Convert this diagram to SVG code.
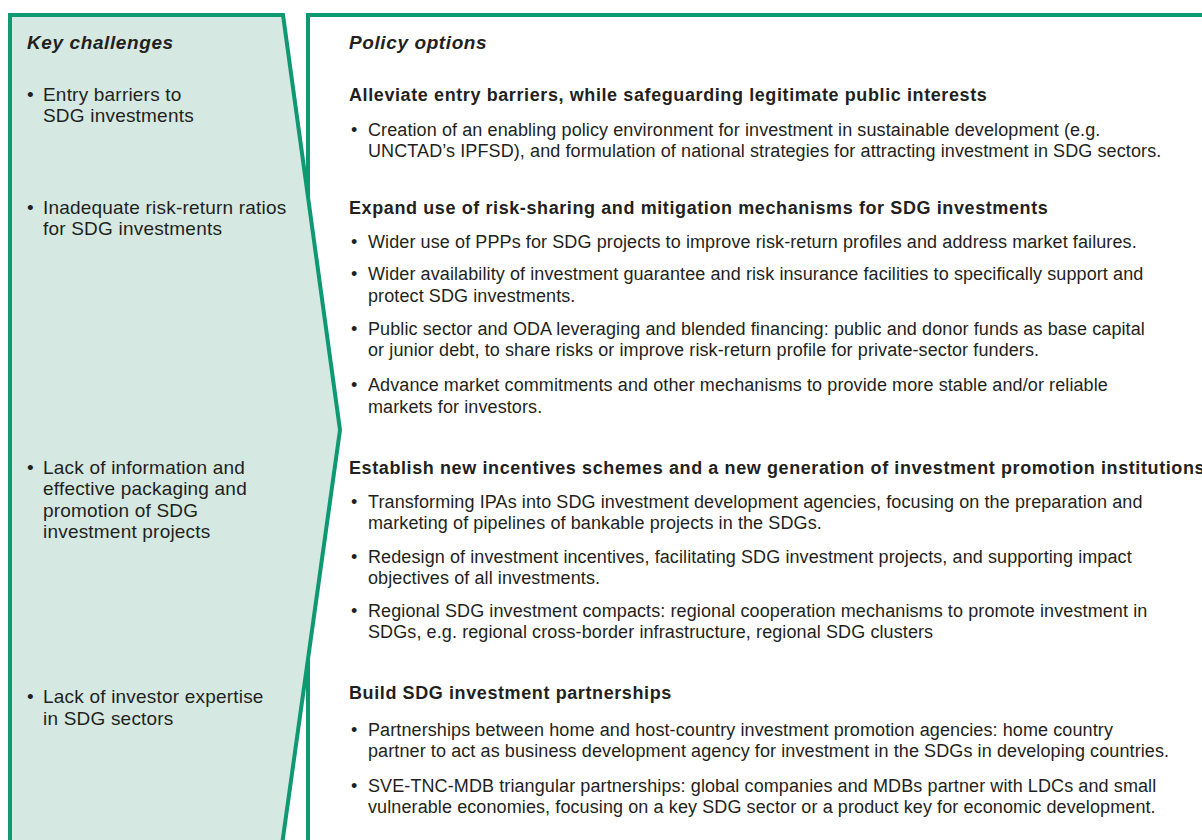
<svg xmlns="http://www.w3.org/2000/svg" width="1202" height="840" viewBox="0 0 1202 840">
<style>
text{font-family:"Liberation Sans",Arial,sans-serif;font-size:18px;letter-spacing:0.1px;fill:#231f20}
.h{font-weight:bold;font-style:italic;font-size:19px;letter-spacing:0.6px}
.b{font-weight:bold;letter-spacing:0.6px}
.l{font-size:19px;letter-spacing:0.2px}
.panel{stroke:#0f9970;stroke-width:4}
</style>
<rect width="1202" height="840" fill="#ffffff"/>
<g id="policy-options">
<rect class="panel" x="308" y="15" width="910" height="840" fill="#ffffff"/>
<text class="h" x="349" y="49">Policy options</text>
<text class="b" x="349" y="101">Alleviate entry barriers, while safeguarding legitimate public interests</text>
<text x="351" y="136">•</text>
<text x="368" y="136">Creation of an enabling policy environment for investment in sustainable development (e.g.</text>
<text x="368" y="157">UNCTAD’s IPFSD), and formulation of national strategies for attracting investment in SDG sectors.</text>
<text class="b" x="349" y="214">Expand use of risk-sharing and mitigation mechanisms for SDG investments</text>
<text x="351" y="248">•</text>
<text x="368" y="248">Wider use of PPPs for SDG projects to improve risk-return profiles and address market failures.</text>
<text x="351" y="280">•</text>
<text x="368" y="280">Wider availability of investment guarantee and risk insurance facilities to specifically support and</text>
<text x="368" y="302">protect SDG investments.</text>
<text x="351" y="335">•</text>
<text x="368" y="335">Public sector and ODA leveraging and blended financing: public and donor funds as base capital</text>
<text x="368" y="356">or junior debt, to share risks or improve risk-return profile for private-sector funders.</text>
<text x="351" y="391">•</text>
<text x="368" y="391">Advance market commitments and other mechanisms to provide more stable and/or reliable</text>
<text x="368" y="413">markets for investors.</text>
<text class="b" x="349" y="474">Establish new incentives schemes and a new generation of investment promotion institutions</text>
<text x="351" y="508">•</text>
<text x="368" y="508">Transforming IPAs into SDG investment development agencies, focusing on the preparation and</text>
<text x="368" y="529">marketing of pipelines of bankable projects in the SDGs.</text>
<text x="351" y="563">•</text>
<text x="368" y="563">Redesign of investment incentives, facilitating SDG investment projects, and supporting impact</text>
<text x="368" y="584">objectives of all investments.</text>
<text x="351" y="617">•</text>
<text x="368" y="617">Regional SDG investment compacts: regional cooperation mechanisms to promote investment in</text>
<text x="368" y="638">SDGs, e.g. regional cross-border infrastructure, regional SDG clusters</text>
<text class="b" x="349" y="699">Build SDG investment partnerships</text>
<text x="351" y="736">•</text>
<text x="368" y="736">Partnerships between home and host-country investment promotion agencies: home country</text>
<text x="368" y="757">partner to act as business development agency for investment in the SDGs in developing countries.</text>
<text x="351" y="792">•</text>
<text x="368" y="792">SVE-TNC-MDB triangular partnerships: global companies and MDBs partner with LDCs and small</text>
<text x="368" y="813">vulnerable economies, focusing on a key SDG sector or a product key for economic development.</text>
</g>
<g id="key-challenges">
<polygon class="panel" points="10,15 283,15 340,430 280.6,855 10,855" fill="#d5e9e2"/>
<text class="h" x="27" y="49">Key challenges</text>
<text class="l" x="27" y="101">•</text>
<text class="l" x="43" y="101">Entry barriers to</text>
<text class="l" x="43" y="122">SDG investments</text>
<text class="l" x="27" y="214">•</text>
<text class="l" x="43" y="214">Inadequate risk-return ratios</text>
<text class="l" x="43" y="235">for SDG investments</text>
<text class="l" x="27" y="474">•</text>
<text class="l" x="43" y="474">Lack of information and</text>
<text class="l" x="43" y="495">effective packaging and</text>
<text class="l" x="43" y="517">promotion of SDG</text>
<text class="l" x="43" y="538">investment projects</text>
<text class="l" x="27" y="703">•</text>
<text class="l" x="43" y="703">Lack of investor expertise</text>
<text class="l" x="43" y="725">in SDG sectors</text>
</g>
<g id="connectors"></g>
</svg>
